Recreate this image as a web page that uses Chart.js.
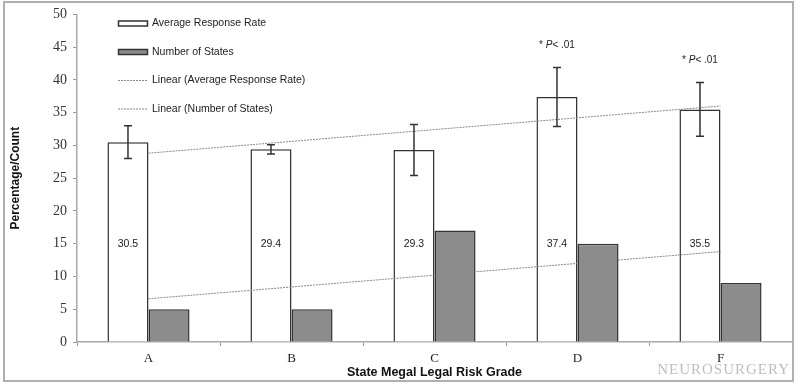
<!DOCTYPE html>
<html>
<head>
<meta charset="utf-8">
<script src="https://cdn.jsdelivr.net/npm/chart.js@4"></script>
<style>
  html, body { margin: 0; padding: 0; background: #fff; }
  #chart { display: block; }
</style>
</head>
<body>
<canvas id="chart" width="800" height="387"></canvas>
<script>
// values
const categories = ["A", "B", "C", "D", "F"];
const responseRate = [30.5, 29.4, 29.3, 37.4, 35.5];
const responseError = [2.5, 0.7, 3.9, 4.5, 4.1];
const stateCount = [5, 5, 17, 15, 9];
const significance = ["", "", "", "* P< .01", "* P< .01"];
const yTicks = [0, 5, 10, 15, 20, 25, 30, 35, 40, 45, 50];

// least squares line through the category positions 1..n (Excel "Linear" trendline)
function linearFit(values) {
  const n = values.length;
  const mx = (n + 1) / 2;
  const my = values.reduce((a, b) => a + b, 0) / n;
  let sxy = 0, sxx = 0;
  values.forEach((v, i) => { sxy += (i + 1 - mx) * (v - my); sxx += (i + 1 - mx) ** 2; });
  const slope = sxy / sxx;
  return values.map((v, i) => my + slope * (i + 1 - mx));
}

const sans = "'Liberation Sans', Arial, sans-serif";
const serif = "'Liberation Serif', 'Times New Roman', serif";

// error bars, value labels and P markers on the white bars
const barExtras = {
  id: "barExtras",
  afterDatasetsDraw(chart) {
    const ctx = chart.ctx;
    const y = chart.scales.y;
    const meta = chart.getDatasetMeta(0);
    ctx.save();
    meta.data.forEach((bar, i) => {
      const top = y.getPixelForValue(responseRate[i] + responseError[i]);
      const bot = y.getPixelForValue(responseRate[i] - responseError[i]);
      ctx.strokeStyle = "#333";
      ctx.lineWidth = 1.5;
      ctx.beginPath();
      ctx.moveTo(bar.x, top); ctx.lineTo(bar.x, bot);
      ctx.moveTo(bar.x - 4, top); ctx.lineTo(bar.x + 4, top);
      ctx.moveTo(bar.x - 4, bot); ctx.lineTo(bar.x + 4, bot);
      ctx.stroke();

      ctx.fillStyle = "#222";
      ctx.font = "10.5px " + sans;
      ctx.textAlign = "center";
      ctx.textBaseline = "middle";
      ctx.fillText(responseRate[i].toFixed(1), bar.x, y.getPixelForValue(15));

      if (significance[i]) {
        // "* P< .01" with an italic P
        const parts = [["* ", "10px " + sans], ["P", "italic 10px " + sans], ["< .01", "10px " + sans]];
        let w = 0;
        parts.forEach(p => { ctx.font = p[1]; w += ctx.measureText(p[0]).width; });
        let x = bar.x - w / 2;
        ctx.textAlign = "left";
        parts.forEach(p => {
          ctx.font = p[1];
          ctx.fillText(p[0], x, top - 22);
          x += ctx.measureText(p[0]).width;
        });
      }
    });
    ctx.restore();
  }
};

// legend drawn in the upper left, plus frame and watermark
const decor = {
  id: "decor",
  afterDraw(chart) {
    const ctx = chart.ctx;
    const ds = chart.data.datasets;
    ctx.save();
    const rows = [23.5, 52, 80.5, 109];
    ctx.font = "10.5px " + sans;
    ctx.textBaseline = "middle";
    ctx.textAlign = "left";
    ds.forEach((d, i) => {
      const yy = rows[i];
      if (d.type === "line") {
        ctx.strokeStyle = "#888";
        ctx.lineWidth = 1;
        ctx.setLineDash([2, 1]);
        ctx.beginPath();
        ctx.moveTo(118, yy); ctx.lineTo(147, yy);
        ctx.stroke();
        ctx.setLineDash([]);
      } else {
        ctx.fillStyle = d.backgroundColor;
        ctx.strokeStyle = "#333";
        ctx.lineWidth = 1.5;
        ctx.fillRect(118.5, yy - 2.5, 29, 5);
        ctx.strokeRect(118.5, yy - 2.5, 29, 5);
      }
      ctx.fillStyle = "#222";
      ctx.fillText(d.label, 152, yy);
    });

    ctx.fillStyle = "#bdbdbd";
    ctx.font = "15px " + serif;
    ctx.letterSpacing = "1px";
    ctx.textAlign = "right";
    ctx.fillText("NEUROSURGERY", 790, 370);
    ctx.letterSpacing = "0px";

    ctx.strokeStyle = "#b0b0b0";
    ctx.lineWidth = 2;
    ctx.strokeRect(4, 2, 789, 379);
    ctx.restore();
  }
};

new Chart(document.querySelector("#chart"), {
  type: "bar",
  data: {
    labels: categories,
    datasets: [
      {
        label: "Average Response Rate",
        data: responseRate,
        backgroundColor: "#ffffff",
        borderColor: "#333",
        borderWidth: 1.5,
        order: 1,
      },
      {
        label: "Number of States",
        data: stateCount,
        backgroundColor: "#8c8c8c",
        borderColor: "#333",
        borderWidth: 1.5,
        order: 1,
      },
      {
        type: "line",
        label: "Linear (Average Response Rate)",
        data: linearFit(responseRate),
        borderColor: "#888",
        borderWidth: 1,
        borderDash: [2, 1],
        pointRadius: 0,
        order: 0,
      },
      {
        type: "line",
        label: "Linear (Number of States)",
        data: linearFit(stateCount),
        borderColor: "#888",
        borderWidth: 1,
        borderDash: [2, 1],
        pointRadius: 0,
        order: 0,
      },
    ],
  },
  options: {
    animation: false,
    responsive: false,
    devicePixelRatio: 1,
    layout: { padding: { top: 11, right: 8, left: 0, bottom: 0 } },
    datasets: { bar: { categoryPercentage: 0.574, barPercentage: 1 } },
    plugins: { legend: { display: false }, tooltip: { enabled: false } },
    scales: {
      x: {
        grid: { drawOnChartArea: false, drawTicks: true, tickLength: 4, color: "#999", offset: true },
        border: { color: "#aaa", width: 1.5 },
        ticks: { color: "#222", font: { family: serif, size: 13 }, padding: 5 },
        title: { display: true, text: "State Megal Legal Risk Grade", color: "#111",
                 font: { family: sans, size: 12.5, weight: "bold" }, padding: { top: 2, bottom: 7 } },
        afterFit(scale) { scale.height = 45; },
      },
      y: {
        min: 0,
        max: 50,
        afterBuildTicks(scale) { scale.ticks = yTicks.map(v => ({ value: v })); },
        grid: { drawOnChartArea: false, drawTicks: true, tickLength: 4, color: "#999" },
        border: { color: "#aaa", width: 1.5 },
        ticks: { color: "#333", font: { family: serif, size: 14 }, padding: 6 },
        title: { display: true, text: "Percentage/Count", color: "#111",
                 font: { family: sans, size: 12, weight: "bold" }, padding: { top: 8, bottom: 0 } },
        afterFit(scale) { scale.width = 77; },
      },
    },
  },
  plugins: [barExtras, decor],
});
</script>
</body>
</html>
